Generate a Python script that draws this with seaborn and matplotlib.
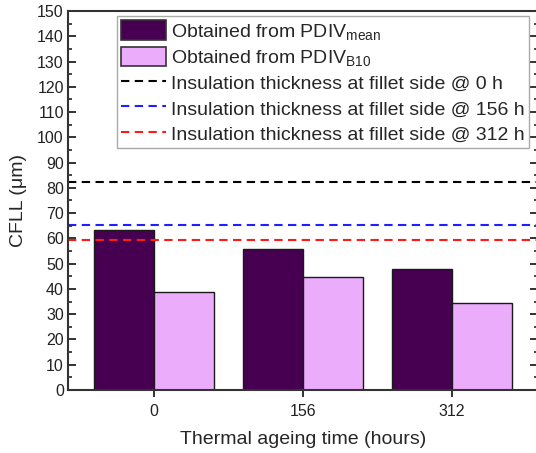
import matplotlib
matplotlib.use("Agg")
import matplotlib.pyplot as plt
import seaborn as sns
import pandas as pd
from matplotlib.ticker import MultipleLocator
from matplotlib.patches import Patch

categories = ["0", "156", "312"]
pdiv_mean = [63.3, 55.7, 47.7]
pdiv_b10 = [38.9, 44.8, 34.5]
thickness_0h = 82.2
thickness_156h = 65.3
thickness_312h = 59.4

series_names = [r"Obtained from PDIV$_{\mathrm{mean}}$", r"Obtained from PDIV$_{\mathrm{B10}}$"]
line_names = ["Insulation thickness at fillet side @ 0 h",
              "Insulation thickness at fillet side @ 156 h",
              "Insulation thickness at fillet side @ 312 h"]

sns.set_style("white")
plt.rcParams['font.family'] = ['Liberation Sans', 'DejaVu Sans']
plt.rcParams['mathtext.fontset'] = 'custom'
plt.rcParams['mathtext.rm'] = 'Liberation Sans'
plt.rcParams['mathtext.it'] = 'Liberation Sans:italic'

df = pd.DataFrame({
    "time": categories * 2,
    "CFLL": pdiv_mean + pdiv_b10,
    "series": [series_names[0]] * 3 + [series_names[1]] * 3,
})

fig = plt.figure(figsize=(5.36, 4.53), dpi=100)
W, H = 536, 453
ax = fig.add_axes([68 / W, (H - 390) / H, (538 - 68) / W, (390 - 11) / H])

palette = {series_names[0]: "#470051", series_names[1]: "#EBADFB"}
sns.barplot(data=df, x="time", y="CFLL", hue="series", palette=palette,
            width=0.8, edgecolor="#1a1a1a", linewidth=1.0, saturation=1,
            ax=ax, legend=False)

ls = (0, (4, 2.6))
l0 = ax.axhline(thickness_0h, color="black", lw=1.5, linestyle=ls)
l1 = ax.axhline(thickness_156h, color="#2020FF", lw=1.5, linestyle=ls)
l2 = ax.axhline(thickness_312h, color="#FF1A1A", lw=1.5, linestyle=ls)

ax.set_xlim(-0.577, 2.577)
ax.set_ylim(0, 150)
ax.yaxis.set_major_locator(MultipleLocator(10))
ax.yaxis.set_minor_locator(MultipleLocator(5))
ax.tick_params(axis="y", which="major", direction="in", length=5.5, width=1.3,
               left=True, right=True, labelsize=11.5, colors="#222222", pad=3)
ax.tick_params(axis="y", which="minor", direction="in", length=3, width=1.2,
               left=True, right=True)
ax.tick_params(axis="x", which="major", direction="out", length=5, width=1.3,
               bottom=True, labelsize=11.5, colors="#222222", pad=5)
for s in ax.spines.values():
    s.set_linewidth(1.5)
    s.set_color("#333333")

ax.set_xlabel("Thermal ageing time (hours)", fontsize=14, labelpad=9)
ax.set_ylabel("CFLL (\u03bcm)", fontsize=14, labelpad=7)

handles = [Patch(facecolor=palette[series_names[0]], edgecolor="#333333", linewidth=1.2),
           Patch(facecolor=palette[series_names[1]], edgecolor="#333333", linewidth=1.2),
           l0, l1, l2]
leg = ax.legend(handles, series_names + line_names, loc="upper left",
                bbox_to_anchor=((117 - 68) / 470, 1 - (16 - 11) / 379),
                fontsize=14, frameon=True, fancybox=False, framealpha=1,
                edgecolor="#AAAAAA", handlelength=2.3, handleheight=1.15,
                handletextpad=0.25, labelspacing=0.26, borderpad=0.22,
                borderaxespad=0)
leg.get_frame().set_linewidth(1.0)

fig.savefig("out.png", dpi=100)
